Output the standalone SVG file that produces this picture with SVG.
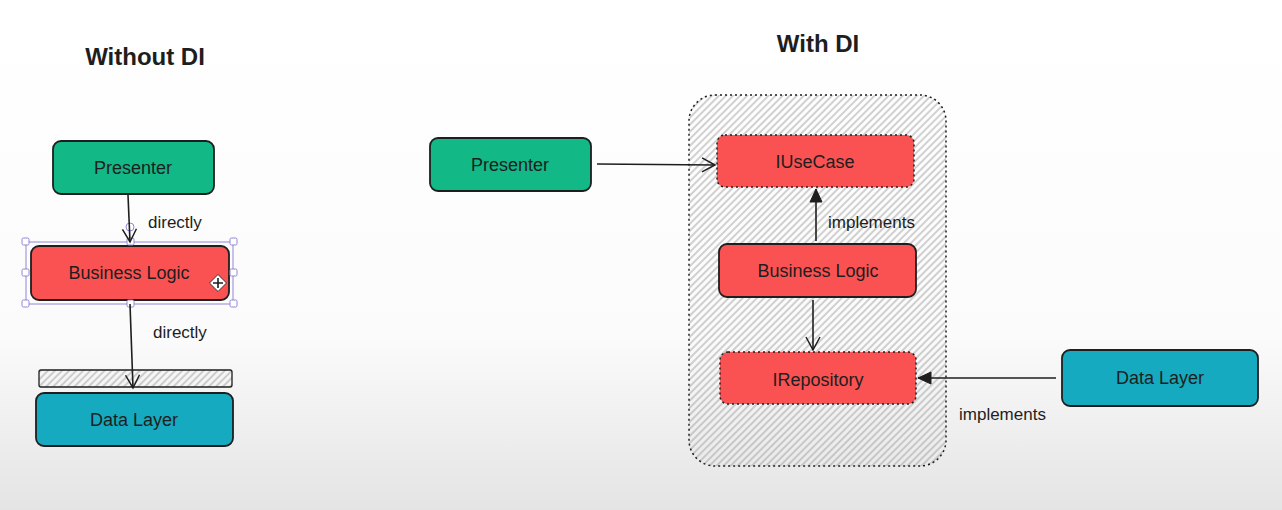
<svg xmlns="http://www.w3.org/2000/svg" width="1282" height="510" viewBox="0 0 1282 510">
<defs>
<linearGradient id="bg" x1="0" y1="0" x2="0" y2="510" gradientUnits="userSpaceOnUse">
<stop offset="0" stop-color="#ffffff"/>
<stop offset="0.66" stop-color="#fbfbfb"/>
<stop offset="1" stop-color="#e4e4e4"/>
</linearGradient>
<pattern id="hatch" patternUnits="userSpaceOnUse" width="5" height="5" patternTransform="rotate(45)">
<line x1="1" y1="0" x2="1" y2="5" stroke="#9a9a9a" stroke-width="0.9"/>
</pattern>
<marker id="open" markerWidth="16" markerHeight="16" refX="14" refY="8" orient="auto" markerUnits="userSpaceOnUse">
<path d="M1,1 L14,8 L1,15" fill="none" stroke="#1e1e1e" stroke-width="1.5"/>
</marker>
<marker id="tri" markerWidth="16" markerHeight="16" refX="14" refY="8" orient="auto" markerUnits="userSpaceOnUse">
<path d="M1,2 L14,8 L1,14 Z" fill="#1e1e1e" stroke="#1e1e1e" stroke-width="1"/>
</marker>
<style>
.t{font-family:"Liberation Sans",Arial,sans-serif;font-size:18px;fill:#1e1e1e;text-anchor:middle;dominant-baseline:central}
.title{font-family:"Liberation Sans",Arial,sans-serif;font-size:24px;font-weight:bold;fill:#1e1e1e;text-anchor:middle;dominant-baseline:central}
.lbl{font-family:"Liberation Sans",Arial,sans-serif;font-size:17px;fill:#1e1e1e;dominant-baseline:central}
.box{stroke:#1e1e1e;stroke-width:1.8}
.dash{stroke:#1e1e1e;stroke-width:1.5;stroke-dasharray:2 3}
.green{fill:#12b886}
.red{fill:#fa5252}
.teal{fill:#15aabf}
.conn{stroke:#1e1e1e;stroke-width:1.6;fill:none}
.sel{fill:none;stroke:#8f86d6;stroke-width:1}
.h{fill:#ffffff;stroke:#8f86d6;stroke-width:1}
</style>
</defs>
<rect width="1282" height="510" fill="url(#bg)"/>

<text class="title" x="145" y="56">Without DI</text>
<text class="title" x="818" y="43">With DI</text>

<g id="container">
<rect x="689" y="95" width="257" height="371" rx="26" fill="url(#hatch)" class="dash"/>
</g>

<g id="presenter-left">
<rect x="53" y="141" width="161" height="53" rx="8" class="box green"/>
<text class="t" x="133" y="168">Presenter</text>
</g>
<g id="business-left">
<rect x="31" y="246" width="198" height="54" rx="8" class="box red"/>
<text class="t" x="129" y="273">Business Logic</text>
<rect x="26" y="242" width="207" height="62" class="sel"/>
<rect x="22" y="238" width="7" height="7" rx="1.5" class="h"/>
<rect x="127" y="238" width="7" height="7" rx="1.5" class="h"/>
<rect x="230" y="238" width="7" height="7" rx="1.5" class="h"/>
<rect x="22" y="269" width="7" height="7" rx="1.5" class="h"/>
<rect x="230" y="269" width="7" height="7" rx="1.5" class="h"/>
<rect x="22" y="300" width="7" height="7" rx="1.5" class="h"/>
<rect x="127" y="300" width="7" height="7" rx="1.5" class="h"/>
<rect x="230" y="300" width="7" height="7" rx="1.5" class="h"/>
<circle cx="130" cy="227" r="4" class="h"/>
<g transform="translate(218,283)">
<rect x="-6" y="-6" width="12" height="12" transform="rotate(45)" fill="#ffffff" stroke="#1e1e1e" stroke-width="0.8"/>
<path d="M-5,0 H5 M0,-5 V5" stroke="#1e1e1e" stroke-width="1.6"/>
</g>
</g>
<g id="hatch-bar">
<rect x="39" y="370" width="193" height="17" rx="2" fill="url(#hatch)" stroke="#1e1e1e" stroke-width="1.3"/>
</g>
<g id="data-left">
<rect x="36" y="393" width="197" height="53" rx="8" class="box teal"/>
<text class="t" x="134" y="420">Data Layer</text>
</g>

<g id="presenter-right">
<rect x="430" y="138" width="161" height="53" rx="8" class="box green"/>
<text class="t" x="510" y="165">Presenter</text>
</g>
<g id="iusecase">
<rect x="717" y="135" width="197" height="52" rx="8" class="dash red"/>
<text class="t" x="815" y="162">IUseCase</text>
</g>
<g id="business-right">
<rect x="719" y="244" width="197" height="53" rx="8" class="box red"/>
<text class="t" x="818" y="271">Business Logic</text>
</g>
<g id="irepository">
<rect x="720" y="352" width="196" height="52" rx="8" class="dash red"/>
<text class="t" x="818" y="380">IRepository</text>
</g>
<g id="data-right">
<rect x="1062" y="350" width="196" height="56" rx="8" class="box teal"/>
<text class="t" x="1160" y="378">Data Layer</text>
</g>

<g id="connectors">
<line x1="128" y1="195" x2="130" y2="242" class="conn" marker-end="url(#open)"/>
<text class="lbl" x="148" y="222">directly</text>
<line x1="130" y1="304" x2="133" y2="388" class="conn" marker-end="url(#open)"/>
<text class="lbl" x="153" y="332">directly</text>
<line x1="597" y1="164" x2="715" y2="165" class="conn" marker-end="url(#open)"/>
<line x1="816" y1="241" x2="816" y2="189" class="conn" marker-end="url(#tri)"/>
<text class="lbl" x="828" y="222">implements</text>
<line x1="813" y1="300" x2="813" y2="350" class="conn" marker-end="url(#open)"/>
<line x1="1056" y1="378" x2="918" y2="378" class="conn" marker-end="url(#tri)"/>
<text class="lbl" x="959" y="414">implements</text>
</g>
</svg>
